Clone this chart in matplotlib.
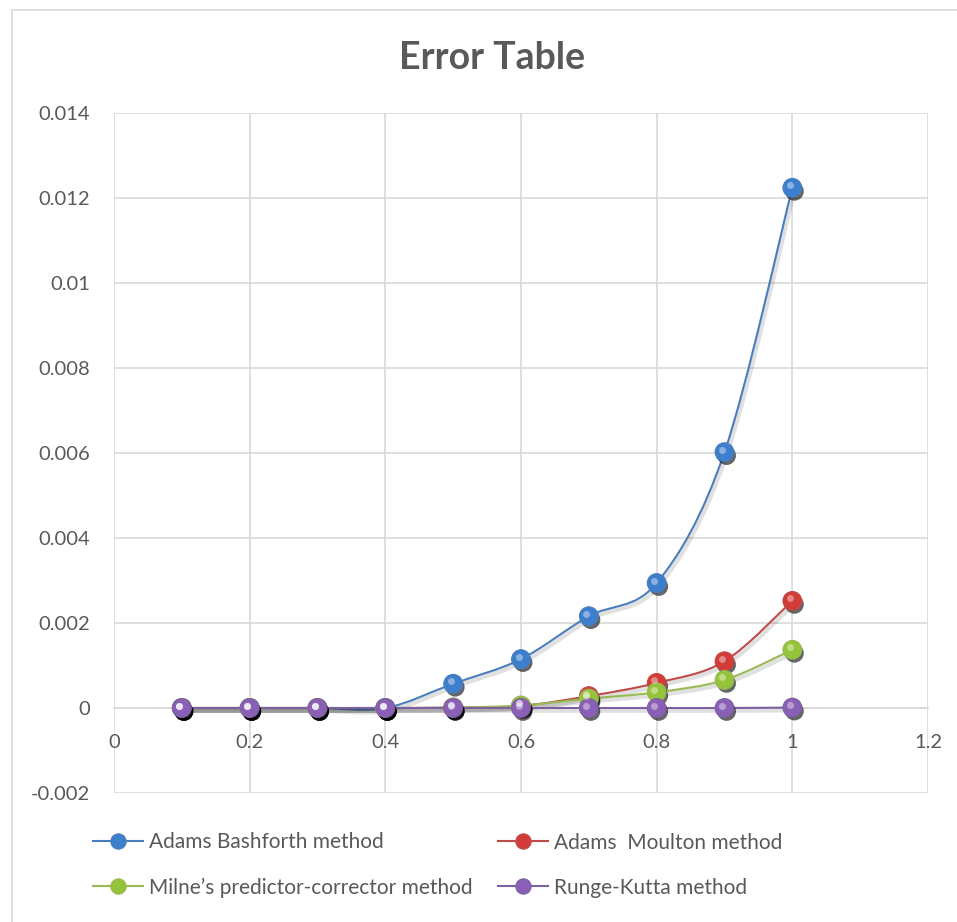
import numpy as np
import matplotlib
matplotlib.use("Agg")
import matplotlib.pyplot as plt
from matplotlib.path import Path
from matplotlib.patches import PathPatch, Rectangle
from matplotlib.lines import Line2D
import matplotlib.patheffects as pe
import matplotlib.transforms as mtransforms

plt.rcParams['font.family'] = ['Lato', 'DejaVu Sans']

x = [0.1, 0.2, 0.3, 0.4, 0.5, 0.6, 0.7, 0.8, 0.9, 1.0]
adams_bashforth = [0.0, 0.0, 0.0, 0.0, 0.00057, 0.00115, 0.00216, 0.00294, 0.00602, 0.01224]
adams_moulton = [0.0, 0.0, 0.0, 0.0, 0.00001, 0.00005, 0.00028, 0.00059, 0.00110, 0.00252]
milne = [0.0, 0.0, 0.0, 0.0, 0.00001, 0.00006, 0.00022, 0.00037, 0.00066, 0.00137]
runge_kutta = [0.0, 0.0, 0.0, 0.0, 0.0, 0.0, 0.0, 0.0, 0.0, 0.00001]

series = [
    ("Adams Bashforth method", adams_bashforth, "#4a7ebb", "#3d7fcc"),
    ("Adams  Moulton method", adams_moulton, "#be4b48", "#d23c38"),
    ("Milne\u2019s predictor-corrector method", milne, "#98b954", "#95c43a"),
    ("Runge-Kutta method", runge_kutta, "#7d60a0", "#8a5fb6"),
]

xticks = [0, 0.2, 0.4, 0.6, 0.8, 1, 1.2]
xticklabels = ["0", "0.2", "0.4", "0.6", "0.8", "1", "1.2"]
yticks = [-0.002, 0, 0.002, 0.004, 0.006, 0.008, 0.01, 0.012, 0.014]
yticklabels = ["-0.002", "0", "0.002", "0.004", "0.006", "0.008", "0.01", "0.012", "0.014"]

W, H = 957, 922
fig = plt.figure(figsize=(W / 100, H / 100), dpi=100)
fig.patch.set_facecolor("white")

# outer chart border
fig.add_artist(Rectangle((12 / W, -0.05), 1.2, 1 - 10 / H + 0.05, transform=fig.transFigure,
                         fill=False, edgecolor="#d9d9d9", linewidth=1.2))

ax = fig.add_axes([114 / W, 1 - 793 / H, (928 - 114) / W, (793 - 113) / H])
ax.set_xlim(0, 1.2)
ax.set_ylim(-0.002, 0.014)
ax.set_xticks(xticks)
ax.set_xticklabels(xticklabels)
ax.set_yticks(yticks)
ax.set_yticklabels(yticklabels)
ax.grid(True, color="#d9d9d9", linewidth=1.2)
ax.set_axisbelow(True)
for s in ["top", "right", "left"]:
    ax.spines[s].set_visible(False)
ax.spines["bottom"].set_position(("data", 0))
ax.spines["bottom"].set_color("#d9d9d9")
ax.spines["bottom"].set_linewidth(1.2)
ax.tick_params(axis="both", length=0, labelsize=14.5, labelcolor="#595959")
ax.tick_params(axis="x", pad=19)
ax.tick_params(axis="y", pad=17)


def smooth_path(xs, ys):
    pts = np.column_stack([xs, ys]).astype(float)
    n = len(pts)
    verts = [pts[0]]
    codes = [Path.MOVETO]
    for i in range(n - 1):
        p0 = pts[i - 1] if i > 0 else pts[i]
        p1 = pts[i]
        p2 = pts[i + 1]
        p3 = pts[i + 2] if i + 2 < n else pts[i + 1]
        c1 = p1 + (p2 - p0) / 6.0
        c2 = p2 - (p3 - p1) / 6.0
        verts += [c1, c2, p2]
        codes += [Path.CURVE4] * 3
    return Path(verts, codes)


shadow_line = [pe.SimpleLineShadow(offset=(1.5, -2), shadow_color="k", alpha=0.12, linewidth=3), pe.Normal()]
marker_fx = [pe.SimplePatchShadow(offset=(1.5, -2.5), shadow_rgbFace="k", alpha=0.6), pe.Normal()]
hl_offset = mtransforms.ScaledTranslation(-2.5 / 100, 2.5 / 100, fig.dpi_scale_trans)

handles = []
for label, ys, lc, mc in series:
    patch = PathPatch(smooth_path(x, ys), fill=False, edgecolor=lc, linewidth=1.5,
                      path_effects=shadow_line, zorder=3)
    ax.add_patch(patch)
    ax.plot(x, ys, linestyle="none", marker="o", markersize=13.5, markerfacecolor=mc,
            markeredgecolor=lc, markeredgewidth=0.8, path_effects=marker_fx, zorder=4)
    ax.plot(x, ys, linestyle="none", marker="o", markersize=5, markerfacecolor="white",
            markeredgewidth=0, alpha=0.4, transform=ax.transData + hl_offset, zorder=5)
    handles.append(Line2D([], [], color=lc, linewidth=1.5, marker="o", markersize=11,
                          markerfacecolor=mc, markeredgecolor=lc, markeredgewidth=0.8, label=label))

fig.text(492 / W, 1 - 58 / H, "Error Table", ha="center", va="center", fontsize=27,
         fontweight="bold", color="#595959")

leg_kw = dict(frameon=False, fontsize=15, labelcolor="#595959", handlelength=2.4,
              handletextpad=0.3, labelspacing=1.2, borderaxespad=0, borderpad=0)
leg1 = fig.legend(handles=[handles[0], handles[2]], loc="center left",
                  bbox_to_anchor=(93 / W, 1 - 865 / H), **leg_kw)
leg2 = fig.legend(handles=[handles[1], handles[3]], loc="center left",
                  bbox_to_anchor=(498 / W, 1 - 865 / H), **leg_kw)

fig.savefig("out.png", dpi=100, facecolor="white")
